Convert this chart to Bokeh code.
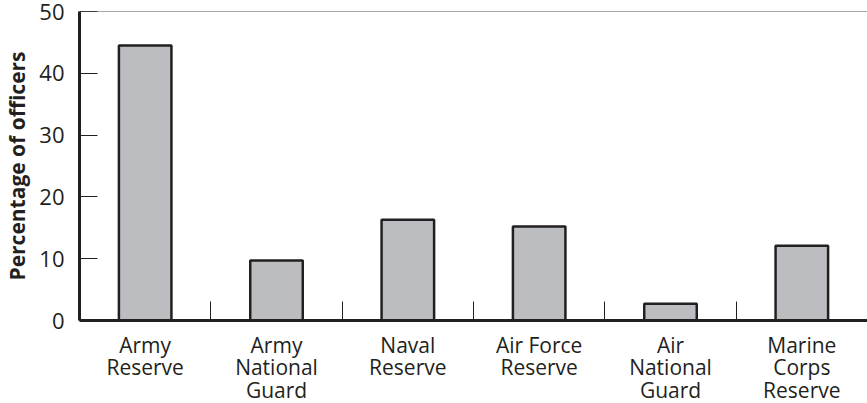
from bokeh.plotting import figure
from bokeh.models import FixedTicker, Range1d, Span, ColumnDataSource
from bokeh.embed import file_html
from bokeh.resources import INLINE

categories = ["Army\nReserve", "Army\nNational\nGuard", "Naval\nReserve",
              "Air Force\nReserve", "Air\nNational\nGuard", "Marine\nCorps\nReserve"]
percent = [44.5, 9.7, 16.3, 15.2, 2.7, 12.1]
y_ticks = [0, 10, 20, 30, 40, 50]

FONT = "Open Sans"
INK = "#231F20"

n = len(categories)
centers = [i + 0.5 for i in range(n)]
separators = list(range(1, n))

src = ColumnDataSource(dict(x=centers, top=percent))

p = figure(frame_width=788, frame_height=309, output_backend="svg", toolbar_location=None,
           x_range=Range1d(0, n), y_range=Range1d(0, 50),
           min_border_top=11, min_border_right=0, min_border_left=73, min_border_bottom=72)
p.outline_line_color = None
p.grid.grid_line_color = None
p.background_fill_color = "white"
p.border_fill_color = "white"

p.vbar(x="x", top="top", bottom=0, width=0.4, source=src,
       fill_color="#BCBDC0", line_color=INK, line_width=2.5)

top_line = Span(location=50, dimension="width", line_color="#555555", line_width=1)
p.add_layout(top_line)

xa = p.xaxis[0]
xa.ticker = FixedTicker(ticks=centers, minor_ticks=separators)
xa.major_label_overrides = {c: lab for c, lab in zip(centers, categories)}
xa.major_tick_in = 0
xa.major_tick_out = 0
xa.minor_tick_in = 19
xa.minor_tick_out = 0
xa.minor_tick_line_color = INK
xa.minor_tick_line_width = 1
xa.axis_line_width = 3
xa.axis_line_color = INK
xa.major_label_text_font = FONT
xa.major_label_text_font_size = "21px"
xa.major_label_text_color = INK
xa.major_label_text_line_height = 0.82
xa.major_label_standoff = 10

ya = p.yaxis[0]
ya.ticker = FixedTicker(ticks=y_ticks)
ya.minor_tick_line_color = None
ya.major_tick_in = 18
ya.major_tick_out = 0
ya.major_tick_line_color = INK
ya.major_tick_line_width = 1
ya.axis_line_width = 3
ya.axis_line_color = INK
ya.major_label_text_font = FONT
ya.major_label_text_font_size = "22px"
ya.major_label_text_color = INK
ya.major_label_standoff = 15
ya.axis_label = "Percentage of officers"
ya.axis_label_text_font = FONT
ya.axis_label_text_font_style = "bold"
ya.axis_label_text_font_size = "21px"
ya.axis_label_text_color = INK
ya.axis_label_standoff = 5

open("out.html", "w").write(file_html(p, INLINE))
